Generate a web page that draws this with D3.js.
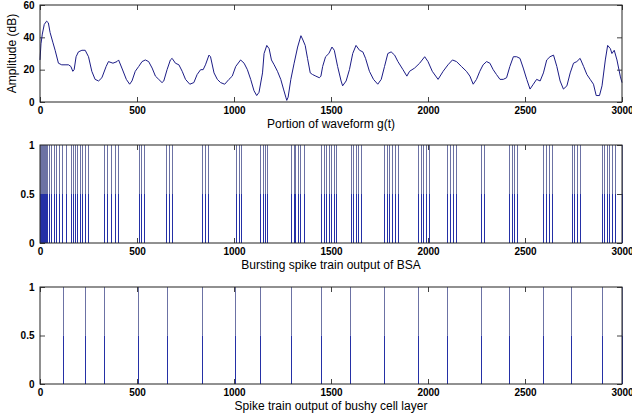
<!DOCTYPE html>
<html>
<head>
<meta charset="utf-8">
<script src="https://cdn.jsdelivr.net/npm/d3@7"></script>
<style>
  body { margin: 0; background: #fff; }
  text { font-family: "Liberation Sans", Arial, sans-serif; fill: #000; }
  .tick text { font-weight: bold; font-size: 10px; }
</style>
</head>
<body>
<svg id="chart" width="632" height="414"></svg>
<script>
// Waveform g(t): sample index and amplitude in dB
const waveX = [0, 5, 12, 22, 34, 43, 52, 66, 78, 95, 112, 129, 147, 159, 169, 176, 186, 198, 216, 233,
  250, 267, 284, 302, 319, 341, 353, 376, 397, 405, 422, 445, 462, 474, 491, 509, 526, 543, 560, 578,
  595, 612, 629, 638, 655, 672, 681, 698, 716, 733, 750, 772, 793, 810, 828, 841, 853, 871, 879, 897,
  914, 931, 952, 974, 991, 1009, 1034, 1052, 1069, 1086, 1103, 1117, 1129, 1147, 1155, 1169, 1181, 1193, 1207, 1224,
  1241, 1255, 1267, 1272, 1279, 1293, 1310, 1328, 1345, 1353, 1367, 1379, 1393, 1405, 1422, 1440, 1448, 1457, 1472, 1489,
  1505, 1517, 1534, 1552, 1560, 1578, 1595, 1612, 1629, 1647, 1664, 1678, 1698, 1719, 1741, 1759, 1776, 1793, 1810, 1828,
  1845, 1871, 1891, 1905, 1931, 1957, 1983, 2000, 2022, 2052, 2078, 2103, 2126, 2147, 2172, 2198, 2216, 2233, 2250, 2267,
  2284, 2302, 2319, 2336, 2353, 2371, 2388, 2405, 2422, 2440, 2457, 2474, 2491, 2509, 2526, 2543, 2560, 2578, 2595, 2612,
  2629, 2647, 2664, 2681, 2698, 2716, 2733, 2750, 2767, 2784, 2802, 2819, 2836, 2853, 2867, 2884, 2897, 2914, 2926, 2940,
  2948, 2960, 2974, 2991, 3000];
const waveY = [26, 36, 42, 48, 50, 49, 43, 37, 32, 24, 23, 23, 23, 22, 19, 20, 28, 31, 32, 32,
  28, 19, 14, 13, 15, 22, 25, 24, 25, 26, 21, 14, 11, 13, 19, 22, 25, 26, 25, 21,
  16, 14, 12, 13, 20, 26, 27, 24, 23, 19, 14, 11, 12, 17, 20, 20, 23, 29, 28, 18,
  14, 12, 11, 14, 16, 22, 26, 24, 20, 14, 7, 4, 6, 18, 30, 35, 33, 26, 23, 19,
  14, 8, 3, 1, 3, 14, 24, 34, 41, 39, 35, 27, 18, 17, 16, 15, 16, 22, 28, 30,
  34, 32, 22, 13, 10, 13, 20, 30, 35, 32, 31, 27, 19, 14, 11, 14, 22, 30, 31, 29,
  25, 20, 16, 19, 21, 24, 28, 25, 19, 14, 19, 23, 26, 25, 22, 19, 16, 11, 14, 19,
  23, 25, 24, 20, 17, 14, 14, 15, 22, 28, 28, 27, 21, 14, 8, 11, 14, 13, 18, 26,
  28, 29, 22, 13, 8, 10, 18, 24, 25, 27, 22, 17, 14, 11, 4, 4, 10, 26, 35, 33,
  30, 32, 26, 16, 12];

// Spike times of the bursting spike train (BSA output)
const burstTimes = [2, 6, 10, 14, 19, 24, 29, 34, 45, 57, 70, 84, 99, 115, 136, 162, 171, 180, 192, 204,
  217, 231, 248, 332, 344, 368, 386, 400, 509, 522, 536, 652, 665, 679, 836, 850, 866,
  1010, 1024, 1038, 1136, 1148, 1158, 1170, 1296, 1308, 1316, 1330, 1342, 1359,
  1450, 1462, 1474, 1488, 1502, 1514, 1526, 1602, 1615, 1627, 1640, 1656,
  1775, 1787, 1799, 1812, 1829, 1844, 1950, 1963, 1976, 1992, 2006, 2100, 2113, 2127, 2146,
  2274, 2287, 2419, 2432, 2444, 2460, 2594, 2608, 2622, 2639, 2742, 2754, 2766, 2784,
  2897, 2909, 2921, 2935, 2951, 2966, 2999];

// Spike times of the bushy cell layer output
const bushyTimes = [117, 232, 331, 507, 653, 837, 1007, 1132, 1295, 1447, 1600, 1773, 1947,
  2098, 2272, 2418, 2593, 2739, 2895, 2999];

const xTicks = [0, 500, 1000, 1500, 2000, 2500, 3000];
const ampTicks = [0, 20, 40, 60];
const spikeTicks = [0, 0.5, 1];
const panelTitles = ["Portion of waveform g(t)", "Bursting spike train output of BSA", "Spike train output of bushy cell layer"];
const ampLabel = "Amplitude (dB)";

const svg = d3.select("#chart");
const left = 40, right = 622;
const x = d3.scaleLinear().domain([0, 3000]).range([left, right]);
const tickLen = 5;
const boxColor = "#222";

function panel(top, bottom, yDomain, yTicks, title) {
  const y = d3.scaleLinear().domain(yDomain).range([bottom, top]);
  const g = svg.append("g");

  // inward ticks on all four sides, labels on bottom and left
  g.append("g").attr("transform", `translate(0,${bottom})`)
    .call(d3.axisBottom(x).tickValues(xTicks).tickFormat(d3.format("d"))
      .tickSizeInner(-tickLen).tickSizeOuter(0).tickPadding(4.5));
  g.append("g").attr("transform", `translate(0,${top})`)
    .call(d3.axisTop(x).tickValues(xTicks).tickFormat("")
      .tickSizeInner(-tickLen).tickSizeOuter(0));
  g.append("g").attr("transform", `translate(${left},0)`)
    .call(d3.axisLeft(y).tickValues(yTicks).tickFormat(d => String(d))
      .tickSizeInner(-tickLen).tickSizeOuter(0).tickPadding(5.5));
  g.append("g").attr("transform", `translate(${right},0)`)
    .call(d3.axisRight(y).tickValues(yTicks).tickFormat("")
      .tickSizeInner(-tickLen).tickSizeOuter(0));
  g.selectAll(".domain").remove();
  g.selectAll(".tick line").attr("stroke", "#444");

  g.append("text").attr("x", (left + right) / 2).attr("y", bottom + 25.5)
    .attr("text-anchor", "middle").style("font-size", "12px").text(title);

  return { g, y };
}

function box(g, top, bottom) {
  g.append("rect").attr("x", left).attr("y", top)
    .attr("width", right - left).attr("height", bottom - top)
    .attr("fill", "none").attr("stroke", boxColor).attr("stroke-width", 1);
}

// Top panel: waveform
{
  const top = 5, bottom = 102;
  const { g, y } = panel(top, bottom, [0, 60], ampTicks, panelTitles[0]);
  const line = d3.line().x(d => x(d[0])).y(d => y(d[1]));
  g.append("path").datum(d3.zip(waveX, waveY))
    .attr("d", line).attr("fill", "none")
    .attr("stroke", "#1c1c86").attr("stroke-width", 1);
  box(g, top, bottom);
  g.append("text").attr("transform", `translate(12,${(top + bottom) / 2}) rotate(-90)`)
    .attr("text-anchor", "middle").attr("dy", "0.35em").style("font-size", "12px").text(ampLabel);
}

// Spike raster panels
function spikePanel(top, bottom, times, title) {
  const { g, y } = panel(top, bottom, [0, 1], spikeTicks, title);
  const s = g.append("g");
  s.selectAll("line.up").data(times).join("line")
    .attr("class", "up")
    .attr("x1", d => Math.round(x(d)) + 0.5).attr("x2", d => Math.round(x(d)) + 0.5)
    .attr("y1", y(0.5)).attr("y2", y(1))
    .attr("stroke", "#6c72a4").attr("stroke-width", 1);
  s.selectAll("line.low").data(times).join("line")
    .attr("class", "low")
    .attr("x1", d => Math.round(x(d)) + 0.5).attr("x2", d => Math.round(x(d)) + 0.5)
    .attr("y1", y(0)).attr("y2", y(0.5))
    .attr("stroke", "#2430a6").attr("stroke-width", 1);
  box(g, top, bottom);
}

spikePanel(145, 243, burstTimes, panelTitles[1]);
spikePanel(287, 384, bushyTimes, panelTitles[2]);
</script>
</body>
</html>
